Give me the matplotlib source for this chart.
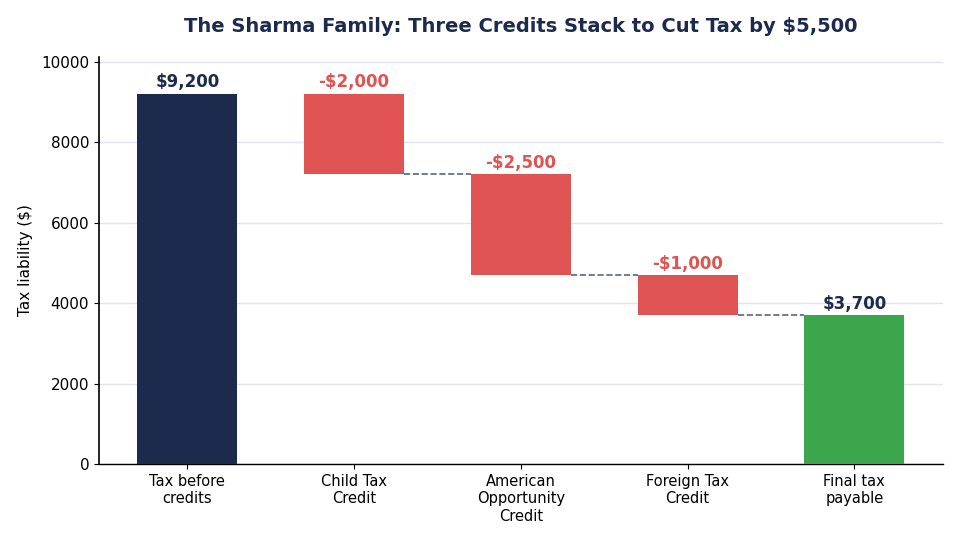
import matplotlib
matplotlib.use("Agg")
import matplotlib.pyplot as plt

categories = ["Tax before\ncredits", "Child Tax\nCredit", "American\nOpportunity\nCredit", "Foreign Tax\nCredit", "Final tax\npayable"]
start_value = 9200
changes = [-2000, -2500, -1000]
final_value = 3700
labels = ["$9,200", "-$2,000", "-$2,500", "-$1,000", "$3,700"]

navy = "#1c2a4d"
red = "#e05353"
green = "#3ba64c"

fig = plt.figure(figsize=(9.6, 5.41), dpi=100)
ax = fig.add_axes([0.103, 0.142, 0.879, 0.753])

bottoms, heights, colors = [], [], []
bottoms.append(0); heights.append(start_value); colors.append(navy)
level = start_value
tops = [start_value]
for c in changes:
    new = level + c
    bottoms.append(new); heights.append(-c); colors.append(red)
    tops.append(level)
    level = new
bottoms.append(0); heights.append(final_value); colors.append(green)
tops.append(final_value)

x = list(range(len(categories)))
ax.bar(x, heights, bottom=bottoms, width=0.6, color=colors, zorder=3)

# connectors
lvl = start_value
levels = []
for c in changes:
    lvl += c
    levels.append(lvl)
for i, lv in enumerate(levels):
    ax.plot([i + 1 + 0.3, i + 2 - 0.3], [lv, lv], ls="--", color="#5f6673", lw=1.2, zorder=2)

for i, (t, lab) in enumerate(zip(tops, labels)):
    col = red if lab.startswith("-") else navy
    ax.text(i, t + 60, lab, ha="center", va="bottom", fontsize=12, fontweight="bold", color=col)

ax.set_ylim(0, start_value * 1.1)
ax.set_xticks(x)
ax.set_xticklabels(categories, fontsize=10.5)
ax.tick_params(axis="y", labelsize=11)
ax.set_ylabel("Tax liability ($)", fontsize=11, labelpad=6)
ax.yaxis.grid(True, color="#e4e2ee", lw=1, zorder=0)
ax.set_axisbelow(True)
ax.spines["left"].set_linewidth(1.2)
ax.spines["bottom"].set_linewidth(1.0)
for s in ["top", "right"]:
    ax.spines[s].set_visible(False)
ax.set_title("The Sharma Family: Three Credits Stack to Cut Tax by $5,500", fontsize=14, fontweight="bold", color=navy, pad=18)

fig.savefig("out.png", dpi=100)
